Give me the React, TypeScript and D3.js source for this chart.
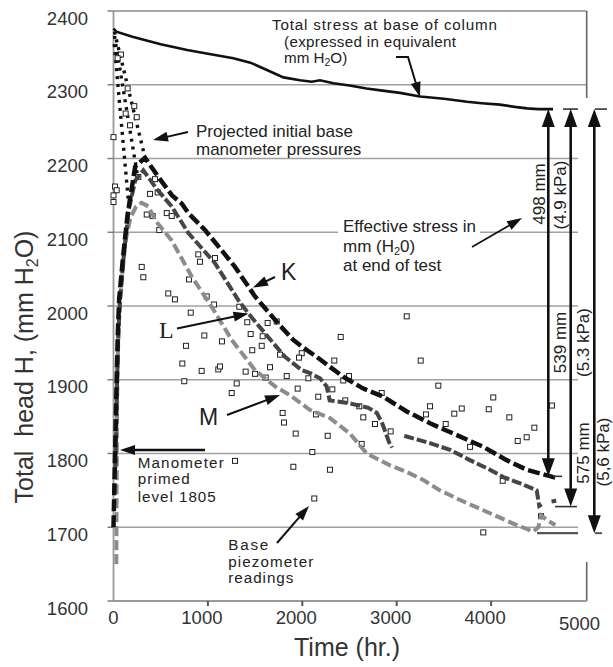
import React from "react";
import * as d3 from "d3";

type P = [number, number];

const timeTicks = [0, 1000, 2000, 3000, 4000, 5000];
const headTicks = [1600, 1700, 1800, 1900, 2000, 2100, 2200, 2300, 2400];
const gridLevels = [1700, 1800, 1900, 2000, 2100, 2200, 2300];

const totalStress: P[] = [
  [0, 2376], [30, 2372], [200, 2365], [500, 2355], [780, 2347], [1000, 2342], [1270, 2336],
  [1450, 2330], [1625, 2320], [1800, 2310], [1975, 2306], [2100, 2304], [2187, 2306],
  [2330, 2302], [2500, 2299], [2680, 2295], [2850, 2292], [3035, 2289], [3247, 2284],
  [3500, 2281], [3745, 2277], [3900, 2275], [4094, 2273], [4250, 2270], [4380, 2268],
  [4500, 2267], [4656, 2267],
];

const seriesK: P[] = [
  [0, 1700], [15, 1790], [30, 1880], [45, 1960], [60, 2010], [100, 2065], [150, 2125],
  [230, 2189], [334, 2201], [475, 2175], [620, 2150], [722, 2139], [793, 2126], [969, 2103],
  [1130, 2078], [1287, 2053], [1499, 2013], [1746, 1976], [1905, 1954], [1994, 1945],
  [2152, 1931], [2434, 1904], [2646, 1888], [2858, 1877], [3106, 1857], [3353, 1841],
  [3600, 1827], [3794, 1816], [3917, 1809], [4165, 1791], [4377, 1778], [4518, 1773],
  [4659, 1768], [4700, 1767],
];

const seriesL: P[] = [
  [20, 1780], [35, 1880], [50, 1960], [70, 2010], [110, 2070], [160, 2130], [230, 2170],
  [316, 2184], [450, 2160], [616, 2135], [793, 2099], [1075, 2058], [1322, 2008],
  [1428, 1990], [1605, 1963], [1817, 1931], [1994, 1913], [2082, 1909], [2188, 1902],
  [2258, 1891], [2290, 1872], [2500, 1868], [2700, 1862], [2790, 1855], [2850, 1840],
  [2920, 1815], [2950, 1808], [3010, NaN], [3080, 1824], [3106, 1823], [3353, 1814],
  [3565, 1805], [3776, 1791], [3988, 1778], [4129, 1768], [4300, 1760], [4483, 1750],
  [4510, 1729], [4535, 1731], [4600, NaN], [4640, 1735], [4690, 1736],
];

const seriesM: P[] = [
  [30, 1650], [32, 1720], [35, 1800], [38, 1870], [45, 1930], [60, 1990], [90, 2040],
  [130, 2090], [180, 2120], [240, 2135], [298, 2140], [369, 2135], [450, 2115], [616, 2089],
  [828, 2040], [1040, 1999], [1252, 1954], [1499, 1913], [1711, 1891], [1870, 1879],
  [2082, 1859], [2293, 1848], [2505, 1827], [2682, 1800], [2929, 1784], [3106, 1775],
  [3282, 1764], [3459, 1750], [3671, 1737], [3988, 1719], [4235, 1705], [4447, 1694],
  [4500, 1700], [4530, 1716], [4600, 1709], [4680, 1703],
];

const projections: P[][] = [
  [[10, 2372], [334, 2201]],
  [[10, 2366], [250, 2180]],
  [[8, 2355], [165, 2132]],
];

const piezometer: P[] = [
  [79, 2341], [44, 2336], [150, 2295], [220, 2271], [246, 2256], [129, 2261], [175, 2245],
  [0, 2229], [16, 2162], [0, 2150], [0, 2141], [34, 2157], [263, 2175], [440, 2172],
  [387, 2152], [468, 2154], [352, 2124], [415, 2122], [564, 2126], [617, 2122], [485, 2103],
  [299, 2053], [316, 2039], [580, 2017], [651, 2009], [818, 1991], [800, 2036], [898, 2070],
  [916, 2060], [987, 2013], [1075, 2065], [1065, 2002], [1333, 1999], [1417, 1978],
  [1453, 1962], [1580, 1959], [1633, 1977], [1729, 1979], [1570, 1946], [1470, 1940],
  [1764, 1934], [1994, 1936], [1965, 1930], [962, 1960], [1149, 1952], [768, 1946],
  [729, 1922], [750, 1898], [934, 1912], [1110, 1914], [1128, 1918], [1400, 1911],
  [1499, 1908], [1612, 1903], [1658, 1917], [1835, 1905], [2064, 1902], [1951, 1888],
  [1305, 1895], [1252, 1882], [1792, 1855], [1806, 1842], [1930, 1827], [1287, 1790],
  [1905, 1782], [2127, 1739], [2269, 1824], [2293, 1778], [2106, 1802], [2629, 1813],
  [2770, 1840], [2936, 1830], [3777, 1809], [4123, 1763], [4282, 1817], [4377, 1822],
  [4458, 1835], [4529, 1715], [3917, 1693], [3106, 1986], [2407, 1958], [3254, 1926],
  [2339, 1926], [2495, 1905], [2434, 1899], [2318, 1887], [3441, 1892], [2841, 1882],
  [2455, 1872], [2169, 1877], [3353, 1864], [3689, 1861], [3610, 1854], [3975, 1860],
  [4023, 1876], [2604, 1864], [2646, 1849], [3310, 1853], [3519, 1840], [2145, 1853],
  [4193, 1849], [4645, 1865],
];

const endStress = 2267;
const effectiveMm = [498, 539, 575];
const effectiveKpa = ["(4.9 kPa)", "(5.3 kPa)", "(5,6 kPa)"];

const W = 613;
const H = 667;
const FONT = "'Liberation Sans', Arial, Helvetica, sans-serif";

const x = d3.scaleLinear().domain([0, 5000]).range([113.5, 585.5]);
const y = d3.scaleLinear().domain([1600, 2400]).range([601, 11]);

const line = d3
  .line<P>()
  .defined((d) => !isNaN(d[1]))
  .x((d) => x(d[0]))
  .y((d) => y(d[1]));

function headPath(x1: number, y1: number, x2: number, y2: number, len: number, w: number) {
  const a = Math.atan2(y2 - y1, x2 - x1);
  const bx = x2 - len * Math.cos(a);
  const by = y2 - len * Math.sin(a);
  const px = (-Math.sin(a) * w) / 2;
  const py = (Math.cos(a) * w) / 2;
  return `M${x2},${y2}L${bx + px},${by + py}L${bx - px},${by - py}Z`;
}

function Arrow({ pts, len = 15, w = 10, sw = 2 }: { pts: P[]; len?: number; w?: number; sw?: number }) {
  const n = pts.length;
  const [x1, y1] = pts[n - 2];
  const [x2, y2] = pts[n - 1];
  const a = Math.atan2(y2 - y1, x2 - x1);
  const end: P = [x2 - (len - 2) * Math.cos(a), y2 - (len - 2) * Math.sin(a)];
  const d = "M" + [...pts.slice(0, n - 1), end].map((p) => p.join(",")).join("L");
  return (
    <g>
      <path d={d} fill="none" stroke="#111" strokeWidth={sw} />
      <path d={headPath(x1, y1, x2, y2, len, w)} fill="#111" />
    </g>
  );
}

function DoubleArrow({ xp, yTop, yBot }: { xp: number; yTop: number; yBot: number }) {
  const len = 18;
  const w = 13;
  return (
    <g>
      <line x1={xp} x2={xp} y1={yTop + len - 2} y2={yBot - len + 2} stroke="#111" strokeWidth={2.6} />
      <path d={headPath(xp, yTop + 40, xp, yTop, len, w)} fill="#111" />
      <path d={headPath(xp, yBot - 40, xp, yBot, len, w)} fill="#111" />
    </g>
  );
}

export default function App() {
  const arrowX = [548.3, 570.7, 594.3];
  const yEnd = y(endStress);
  const textColor = "#222";
  return (
    <svg
      width={W}
      height={H}
      viewBox={`0 0 ${W} ${H}`}
      style={{ position: "absolute", left: 0, top: 0, background: "#fff" }}
      fontFamily={FONT}
    >
      <rect x={0} y={0} width={W} height={H} fill="#fff" />
      {/* grid */}
      {gridLevels.map((g) => (
        <line
          key={g}
          x1={x(0)}
          x2={g === 2300 ? 586.7 : 578}
          y1={y(g)}
          y2={y(g)}
          stroke="#a0a0a0"
          strokeWidth={1.3}
        />
      ))}
      {/* frame */}
      <line x1={x(0)} x2={586.7} y1={y(2400)} y2={y(2400)} stroke="#8a8a8a" strokeWidth={1.6} />
      <line x1={586.7} x2={586.7} y1={y(2400)} y2={98} stroke="#666" strokeWidth={1.6} />
      <line x1={586.7} x2={586.7} y1={562} y2={y(1600)} stroke="#666" strokeWidth={1.6} />
      <line x1={x(0)} x2={586.7} y1={y(1600)} y2={y(1600)} stroke="#999" strokeWidth={1.8} />
      <line x1={x(0)} x2={x(0)} y1={y(2400)} y2={y(1600)} stroke="#999" strokeWidth={1.8} />
      {/* y ticks */}
      {headTicks.map((t) => (
        <g key={t}>
          <line x1={x(0) - 6} x2={x(0)} y1={y(t)} y2={y(t)} stroke="#777" strokeWidth={1.4} />
          <text x={88} y={y(t) + 13.5} textAnchor="end" fontSize={18.5} fill="#333">
            {t}
          </text>
        </g>
      ))}
      {/* x ticks */}
      {timeTicks.map((t) => (
        <g key={t}>
          {t > 0 && t < 5000 && (
            <line x1={x(t)} x2={x(t)} y1={y(1600)} y2={y(1600) + 5} stroke="#555" strokeWidth={2} />
          )}
          <text
            x={t === 0 ? x(t) : x(t) - 6}
            y={t === 5000 ? 630 : 624}
            textAnchor="middle"
            fontSize={18.5}
            fill="#333"
          >
            {t}
          </text>
        </g>
      ))}
      {/* axis titles */}
      <text x={347} y={656} textAnchor="middle" fontSize={25} fill="#333">
        Time (hr.)
      </text>
      <text transform="translate(33,367) rotate(-90)" textAnchor="middle" fontSize={25} fill="#333">
        Total{"\u00a0\u00a0"}head H, (mm H
        <tspan fontSize={16} dy={5}>2</tspan>
        <tspan dy={-5}>O)</tspan>
      </text>

      {/* text background for effective stress label */}
      <rect x={338} y={216} width={142} height={22} fill="#fff" />

      {/* projection dotted lines */}
      {projections.map((p, i) => (
        <path key={i} d={line(p) || ""} fill="none" stroke="#111" strokeWidth={3.4} strokeDasharray="3 5" />
      ))}

      {/* piezometer squares */}
      {piezometer.map((d, i) => (
        <rect
          key={i}
          x={x(d[0]) - 2.5}
          y={y(d[1]) - 2.5}
          width={5}
          height={5}
          fill="#fff"
          stroke="#222"
          strokeWidth={1}
        />
      ))}

      {/* series */}
      <path d={line(seriesM) || ""} fill="none" stroke="#8c8c8c" strokeWidth={4} strokeDasharray="10 4" />
      <path d={line(seriesL) || ""} fill="none" stroke="#454545" strokeWidth={4} strokeDasharray="10 3" />
      <path d={line(seriesK) || ""} fill="none" stroke="#111" strokeWidth={4.5} strokeDasharray="12 4" />
      <path d={line(totalStress) || ""} fill="none" stroke="#111" strokeWidth={2.6} />

      {/* end ticks */}
      <line x1={563} x2={578} y1={yEnd} y2={yEnd} stroke="#333" strokeWidth={1.6} />
      <line x1={595} x2={607} y1={yEnd} y2={yEnd} stroke="#333" strokeWidth={1.6} />
      <line x1={553} x2={562} y1={y(endStress - effectiveMm[0])} y2={y(endStress - effectiveMm[0])} stroke="#333" strokeWidth={1.6} />
      <line x1={555} x2={577} y1={y(endStress - effectiveMm[1])} y2={y(endStress - effectiveMm[1])} stroke="#333" strokeWidth={1.6} />
      <line x1={537} x2={578} y1={y(endStress - effectiveMm[2])} y2={y(endStress - effectiveMm[2])} stroke="#555" strokeWidth={2.4} />
      <line x1={595} x2={602} y1={y(endStress - effectiveMm[2])} y2={y(endStress - effectiveMm[2])} stroke="#555" strokeWidth={2} />

      {/* vertical effective stress arrows */}
      {effectiveMm.map((m, i) => (
        <DoubleArrow key={m} xp={arrowX[i]} yTop={yEnd} yBot={y(endStress - m)} />
      ))}
      {/* labels on arrows */}
      <text transform="translate(545,194) rotate(-90)" textAnchor="middle" fontSize={17} fill={textColor}>
        {effectiveMm[0]} mm
      </text>
      <text transform="translate(566,195) rotate(-90)" textAnchor="middle" fontSize={17} fill={textColor}>
        {effectiveKpa[0]}
      </text>
      <text transform="translate(566,342.5) rotate(-90)" textAnchor="middle" fontSize={17} fill={textColor}>
        {effectiveMm[1]} mm
      </text>
      <text transform="translate(589,342.5) rotate(-90)" textAnchor="middle" fontSize={17} fill={textColor}>
        {effectiveKpa[1]}
      </text>
      <text transform="translate(589,453) rotate(-90)" textAnchor="middle" fontSize={17} fill={textColor}>
        {effectiveMm[2]} mm
      </text>
      <text transform="translate(608.5,452) rotate(-90)" textAnchor="middle" fontSize={17} fill={textColor}>
        {effectiveKpa[2]}
      </text>

      {/* annotations */}
      <g fontSize={15.2} fill={textColor}>
        <text x={272} y={30} textLength={225} lengthAdjust="spacing">Total stress at base of column</text>
        <text x={284} y={46.7} textLength={172} lengthAdjust="spacing">(expressed in equivalent</text>
        <text x={284} y={63}>
          mm H<tspan fontSize={10.5} dy={3}>2</tspan>
          <tspan dy={-3}>O)</tspan>
        </text>
        <text x={196} y={136.7} fontSize={17}>Projected initial base</text>
        <text x={196} y={155} fontSize={17}>manometer pressures</text>
        <text x={343} y={231.5} fontSize={17}>Effective stress in</text>
        <text x={343} y={251.5} fontSize={17}>
          mm (H<tspan fontSize={11} dy={3}>2</tspan>
          <tspan dy={-3}>0)</tspan>
        </text>
        <text x={343} y={270.5} fontSize={17}>at end of test</text>
        <text x={137.7} y={468.3} textLength={86} lengthAdjust="spacing">Manometer</text>
        <text x={137.7} y={484.3} textLength={52} lengthAdjust="spacing">primed</text>
        <text x={137.7} y={501.7} textLength={78} lengthAdjust="spacing">level 1805</text>
        <text x={228.3} y={550} textLength={40} lengthAdjust="spacing">Base</text>
        <text x={228.3} y={566.7} textLength={85} lengthAdjust="spacing">piezometer</text>
        <text x={228.3} y={583.3} textLength={65} lengthAdjust="spacing">readings</text>
      </g>
      <text x={281} y={280} fontSize={23} fill="#222">K</text>
      <text x={159} y={338} fontSize={24} fill="#222" fontFamily="'Liberation Serif', 'Times New Roman', serif">L</text>
      <text x={199} y={425} fontSize={23} fill="#222">M</text>

      <Arrow pts={[[396, 57], [408, 57], [420, 97]]} />
      <Arrow pts={[[188, 132], [153, 140]]} />
      <Arrow pts={[[275, 277], [253, 287.5]]} />
      <Arrow pts={[[177, 328.5], [248.5, 313.5]]} />
      <Arrow pts={[[227, 415], [280, 395]]} />
      <Arrow pts={[[205, 450], [120, 450]]} sw={2.4} />
      <Arrow pts={[[277, 543], [309, 506]]} />
      <Arrow pts={[[472, 247], [522, 218]]} sw={1.6} />
    </svg>
  );
}
